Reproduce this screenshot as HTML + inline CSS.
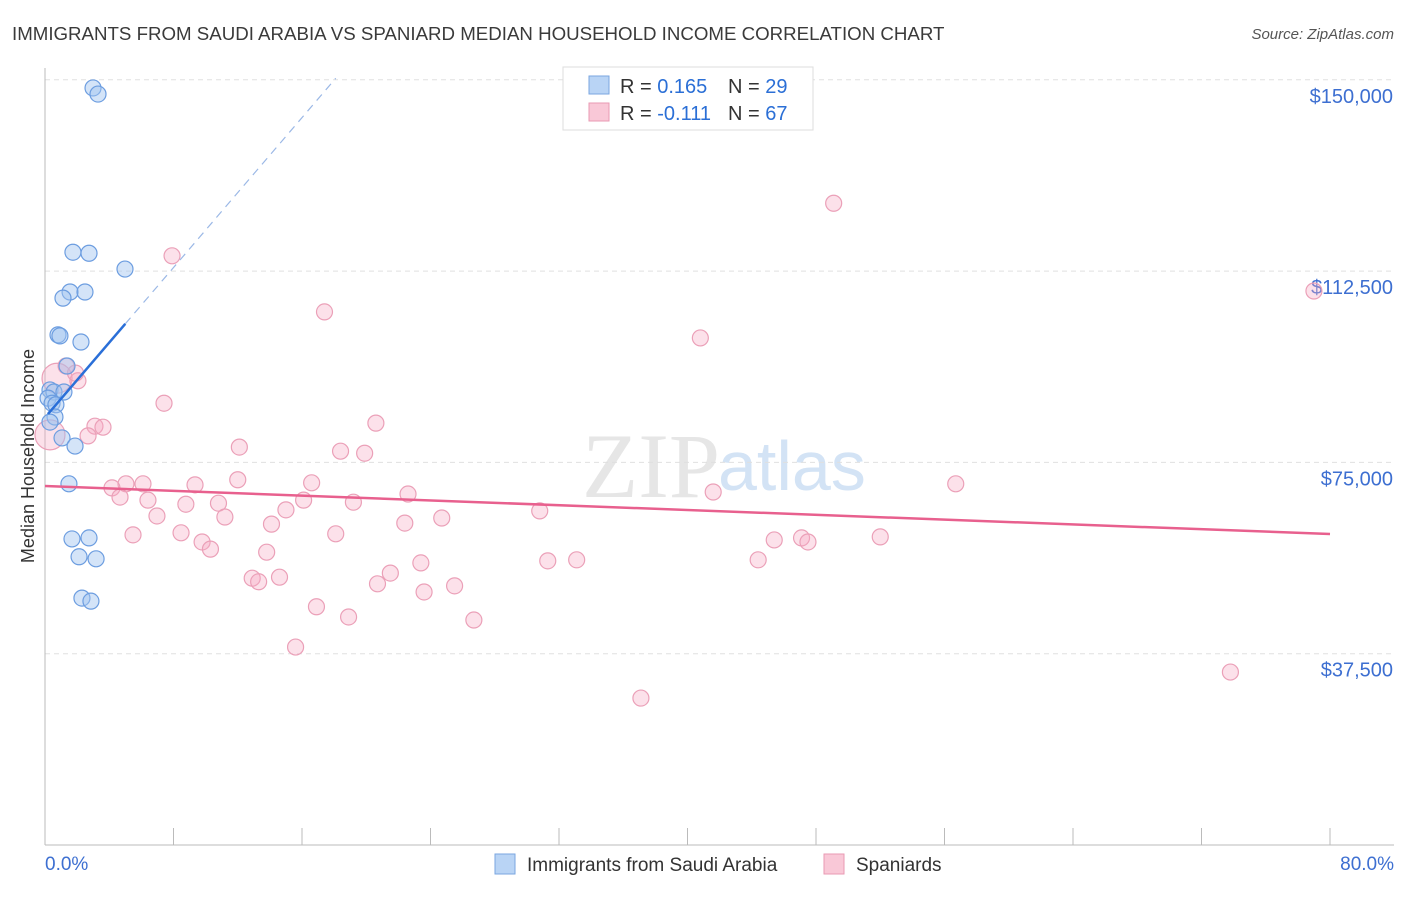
<!DOCTYPE html>
<html><head><meta charset="utf-8"><style>
body{margin:0;background:#fff;font-family:"Liberation Sans",sans-serif}
#wrap{position:relative;width:1406px;height:892px}
</style></head><body>
<div id="wrap">
<svg id="svg" width="1406" height="892" xmlns="http://www.w3.org/2000/svg">
<text x="12" y="40" font-size="18.7" fill="#3a3a3a">IMMIGRANTS FROM SAUDI ARABIA VS SPANIARD MEDIAN HOUSEHOLD INCOME CORRELATION CHART</text>
<text x="1394" y="39" font-size="15" fill="#555" font-style="italic" text-anchor="end">Source: ZipAtlas.com</text>
<text x="720" y="497" font-size="92" font-family="Liberation Serif,serif" fill="#e6e6e6" text-anchor="end">ZIP</text>
<text x="718" y="490" font-size="70" fill="#d3e3f5">atlas</text>
<text x="34" y="456" font-size="18" fill="#333" text-anchor="middle" transform="rotate(-90 34 456)">Median Household Income</text>
<g id="grid"></g><g id="marks"></g>
<g>
<rect x="563" y="67" width="250" height="63" fill="#fff" stroke="#ddd"/>
<rect x="589" y="76" width="20" height="18" fill="#b9d4f5" stroke="#7aa6e0"/>
<rect x="589" y="103" width="20" height="18" fill="#f9c8d7" stroke="#e99ab3"/>
<text x="620" y="93" font-size="20" fill="#333">R = <tspan fill="#2b6fd6">0.165</tspan></text>
<text x="728" y="93" font-size="20" fill="#333">N = <tspan fill="#2b6fd6">29</tspan></text>
<text x="620" y="120" font-size="20" fill="#333">R = <tspan fill="#2b6fd6">-0.111</tspan></text>
<text x="728" y="120" font-size="20" fill="#333">N = <tspan fill="#2b6fd6">67</tspan></text>
</g>
<g>
<rect x="495" y="854" width="20" height="20" fill="#b9d4f5" stroke="#7aa6e0"/>
<text x="527" y="871" font-size="19" fill="#333">Immigrants from Saudi Arabia</text>
<rect x="824" y="854" width="20" height="20" fill="#f9c8d7" stroke="#e99ab3"/>
<text x="856" y="871" font-size="19" fill="#333">Spaniards</text>
</g>
</svg></div>
<script>
const xTickLabels=["0.0%","80.0%"];
const yTicks=[37500,75000,112500,150000];
const yTickLabels=["$37,500","$75,000","$112,500","$150,000"];
const blueX=[2.99,3.30,1.74,2.74,4.98,1.56,2.49,1.12,0.81,0.93,2.24,1.37,0.31,0.56,1.18,0.19,0.44,0.68,0.62,0.31,1.06,1.87,1.49,1.68,2.74,2.12,3.18,2.30,2.86];
const blueY=[148400,147200,116200,116000,112900,108400,108400,107200,100000,99800,98600,93900,89200,88800,88800,87600,86600,86300,83900,82900,79800,78200,70800,60000,60200,56500,56100,48400,47800];
const pinkX=[49.1,79.0,7.91,17.4,40.8,1.31,0.75,2.05,7.41,20.6,3.11,3.61,2.68,0.31,12.1,18.4,19.9,56.7,12.0,16.6,5.04,6.10,4.17,9.34,4.67,6.41,22.6,41.6,16.1,19.2,8.77,10.8,15.0,30.8,6.97,11.2,24.7,14.1,22.4,5.48,8.47,18.1,9.78,10.3,45.4,47.1,47.5,52.0,13.8,31.3,33.1,44.4,23.4,21.5,14.6,12.9,13.3,20.7,25.5,23.6,16.9,18.9,26.7,15.6,73.8,37.1,1.9];
const pinkY=[125800,108600,115500,104500,99400,93900,91500,91000,86600,82700,82100,81900,80200,80400,78000,77200,76800,70800,71600,71000,70800,70800,70000,70600,68200,67600,68800,69200,67600,67200,66800,67000,65700,65500,64500,64300,64100,62900,63100,60800,61200,61000,59400,58000,59800,60200,59400,60400,57400,55700,55900,55900,55300,53300,52500,52300,51600,51200,50800,49600,46700,44700,44100,38800,33900,28800,92500];
const blueTrend=[83800,3674];
const pinkTrend=[70370,-117.6];
const NS="http://www.w3.org/2000/svg";
const X=v=>45+v*(1285/80), Y=v=>845-v*(191.3/37500);
function mk(t,a,p){const e=document.createElementNS(NS,t);for(const k in a)e.setAttribute(k,a[k]);p.appendChild(e);return e;}
const grid=document.getElementById('grid'),marks=document.getElementById('marks');
yTicks.forEach((t,i)=>{
 const l=mk('line',{x1:45,x2:1394,y1:Y(t),y2:Y(t),stroke:'#e0e0e0','stroke-dasharray':'5 4'},grid);
 
 
 const tx=mk('text',{x:1393,y:Y(t)+23,'font-size':20,fill:'#3d6fd1','text-anchor':'end'},grid);tx.textContent=yTickLabels[i];
 
 
});
mk('line',{x1:45,x2:45,y1:68,y2:845,stroke:'#bbb'},grid);
mk('line',{x1:45,x2:1394,y1:845,y2:845,stroke:'#bbb'},grid);
for(let i=0;i<=10;i++){const l=mk('line',{x1:X(i*8),x2:X(i*8),y1:828,y2:845,stroke:'#bbb'},grid);
 
 }
[[X(0),'start',xTickLabels[0]],[1394,'end',xTickLabels[1]]].forEach(([x,a,s])=>{const t=mk('text',{x:x,y:870,'font-size':19,fill:'#3d6fd1','text-anchor':a},grid);t.textContent=s;
 
 });
pinkX.forEach((x,i)=>{const big=(i==6||i==13);const c=mk('circle',{cx:X(x),cy:Y(pinkY[i]),r:big?15:8,fill:'rgba(246,170,195,0.35)',stroke:'#eba0b8','stroke-width':1.2},marks);
 
 });
blueX.forEach((x,i)=>{const c=mk('circle',{cx:X(x),cy:Y(blueY[i]),r:8,fill:'rgba(160,196,240,0.45)',stroke:'#6c9de0','stroke-width':1.2},marks);
 
 });
let l=mk('line',{x1:X(0),y1:Y(pinkTrend[0]),x2:X(80),y2:Y(pinkTrend[0]+pinkTrend[1]*80),stroke:'#e8608e','stroke-width':2.5},marks);


l=mk('line',{x1:X(0.19),y1:Y(blueTrend[0]+blueTrend[1]*0.19),x2:X(5),y2:Y(blueTrend[0]+blueTrend[1]*5),stroke:'#2a6fd8','stroke-width':2.5},marks);


l=mk('line',{x1:X(5),y1:Y(blueTrend[0]+blueTrend[1]*5),x2:X(18.1),y2:Y(blueTrend[0]+blueTrend[1]*18.1),stroke:'#9bb8e6','stroke-width':1.2,'stroke-dasharray':'8 6'},marks);


</script>
</body></html>
